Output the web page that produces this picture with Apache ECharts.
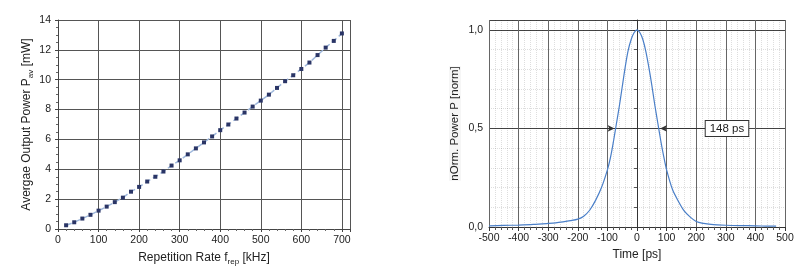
<!DOCTYPE html>
<html><head><meta charset="utf-8">
<script src="https://cdn.jsdelivr.net/npm/echarts@6/dist/echarts.min.js"></script>
<style>html,body{margin:0;padding:0;background:#fff}#c{width:800px;height:272px}</style>
</head><body><div id="c"></div>
<script>
const repRate = [20,40,60,80,100,120,140,160,180,200,220,240,260,280,300,320,340,360,380,400,420,440,460,480,500,520,540,560,580,600,620,640,660,680,700];
const avgPower = [0.25,0.45,0.7,0.95,1.23,1.5,1.8,2.1,2.5,2.82,3.18,3.5,3.85,4.25,4.6,5.0,5.4,5.8,6.2,6.62,7.0,7.4,7.8,8.2,8.6,9.0,9.45,9.9,10.3,10.72,11.15,11.65,12.15,12.6,13.1];
const timePs = [-500,-450,-400,-350,-300,-275,-250,-225,-200,-180,-160,-140,-120,-100,-90,-80,-70,-60,-50,-40,-30,-20,-10,0,10,20,30,40,50,60,70,80,90,100,120,140,160,180,200,225,250,300,350,400,450,470];
const normPower = [0.006,0.008,0.010,0.013,0.018,0.021,0.026,0.032,0.040,0.055,0.085,0.135,0.20,0.29,0.35,0.43,0.52,0.61,0.71,0.81,0.895,0.95,0.985,1.0,0.985,0.95,0.89,0.81,0.72,0.62,0.53,0.44,0.36,0.29,0.19,0.13,0.08,0.05,0.028,0.018,0.013,0.009,0.007,0.006,0.004,0.004];
const fwhmLabel = '148 ps';
const fwhmArrowLeft = [[-218, 0.5], [-76, 0.5]];
const fwhmArrowRight = [[244, 0.5], [78, 0.5]];
const fwhmLabelPos = [304, 0.5];

const chart = echarts.init(document.getElementById('c'));
const font = 'Liberation Sans, Arial, sans-serif';
const txt = '#222';
const minorGrid = {show: true, lineStyle: {color: 'rgba(0,0,0,0.13)', type: 'dotted'}};
chart.setOption({
  animation: false,
  textStyle: {fontFamily: font},
  grid: [
    {left: 58, top: 20, width: 292, height: 209, outerBoundsMode: 'none', containLabel: false},
    {left: 489, top: 20, width: 296, height: 207, outerBoundsMode: 'none', containLabel: false}
  ],
  xAxis: [
    {gridIndex: 0, type: 'value', min: 0, max: 720, interval: 100,
     name: 'Repetition Rate f{sub|rep} [kHz]', nameLocation: 'middle', nameGap: 21,
     nameTextStyle: {fontSize: 12, color: txt, rich: {sub: {fontSize: 8, padding: [8,0,0,0], color: txt}}},
     axisLine: {show: true, lineStyle: {color: '#444'}},
     axisTick: {show: true, length: 3, lineStyle: {color: '#444'}},
     minorTick: {show: true, splitNumber: 5, length: 2, lineStyle: {color: '#666'}},
     axisLabel: {fontSize: 10.5, color: txt, margin: 6, formatter: v => (v % 100 === 0 ? String(v) : '')},
     splitLine: {show: true, lineStyle: {color: '#555', width: 1}}},
    {gridIndex: 1, type: 'value', min: -500, max: 500, interval: 100,
     name: 'Time [ps]', nameLocation: 'middle', nameGap: 22,
     nameTextStyle: {fontSize: 12, color: txt},
     axisLine: {show: true, lineStyle: {color: '#333'}},
     axisTick: {show: true, length: 4, lineStyle: {color: '#333'}},
     minorTick: {show: true, splitNumber: 5, length: 3, lineStyle: {color: '#555'}},
     axisLabel: {fontSize: 10.5, color: txt, margin: 6},
     splitLine: {show: true, lineStyle: {color: '#666', width: 1}},
     minorSplitLine: minorGrid}
  ],
  yAxis: [
    {gridIndex: 0, type: 'value', min: 0, max: 14, interval: 2,
     name: 'Avergae Output Power P{sub|av} [mW]', nameLocation: 'middle', nameGap: 23, nameRotate: 90,
     nameTextStyle: {fontSize: 12, color: txt, rich: {sub: {fontSize: 8, padding: [8,0,0,0], color: txt}}},
     axisLine: {show: true, lineStyle: {color: '#444'}},
     axisTick: {show: true, length: 3, lineStyle: {color: '#444'}},
     minorTick: {show: true, splitNumber: 4, length: 2, lineStyle: {color: '#666'}},
     axisLabel: {fontSize: 10.5, color: txt, margin: 7},
     splitLine: {show: true, lineStyle: {color: '#555', width: 1}}},
    {gridIndex: 1, type: 'value', min: 0, max: 1.05, interval: 0.5,
     name: 'nOrm. Power P [norm]', nameLocation: 'middle', nameGap: 28, nameRotate: 90,
     nameTextStyle: {fontSize: 11.5, color: txt, backgroundColor: '#f6f6f6'},
     axisLine: {show: true, lineStyle: {color: '#333'}},
     axisTick: {show: true, length: 4, lineStyle: {color: '#333'}},
     minorTick: {show: true, splitNumber: 5, length: 3, lineStyle: {color: '#555'}},
     axisLabel: {fontSize: 10.5, color: txt, margin: 6, showMaxLabel: false,
       formatter: v => (Math.abs(v * 2 - Math.round(v * 2)) < 1e-6 ? v.toFixed(1).replace('.', ',') : '')},
     splitLine: {show: true, lineStyle: {color: '#444', width: 1}},
     minorSplitLine: minorGrid}
  ],
  series: [
    {type: 'line', xAxisIndex: 0, yAxisIndex: 0,
     data: repRate.map((x, i) => [x, avgPower[i]]),
     symbol: 'rect', symbolSize: 4,
     itemStyle: {color: '#2a3566'},
     lineStyle: {color: '#9fb8dc', width: 1.5, type: 'dashed'}},
    {type: 'line', xAxisIndex: 1, yAxisIndex: 1,
     data: timePs.map((x, i) => [x, normPower[i]]),
     smooth: 0.3, showSymbol: false,
     lineStyle: {color: '#4a7fc8', width: 1.2},
     markLine: {silent: true, symbol: ['none', 'arrow'], symbolSize: [5, 7],
       lineStyle: {color: '#333', width: 1.2, type: 'solid'}, label: {show: false},
       data: [
         [{coord: fwhmArrowLeft[0]}, {coord: fwhmArrowLeft[1]}],
         [{coord: fwhmArrowRight[0]}, {coord: fwhmArrowRight[1]}]
       ]},
     markPoint: {silent: true, symbol: 'rect', symbolSize: 1, itemStyle: {color: 'rgba(0,0,0,0)'},
       label: {show: true, position: 'inside', formatter: fwhmLabel, fontSize: 11.5, color: '#222',
         backgroundColor: '#fff', borderColor: '#333', borderWidth: 1, padding: [2, 4, 1, 4]},
       data: [{coord: fwhmLabelPos}]}
    }
  ]
});
</script></body></html>
